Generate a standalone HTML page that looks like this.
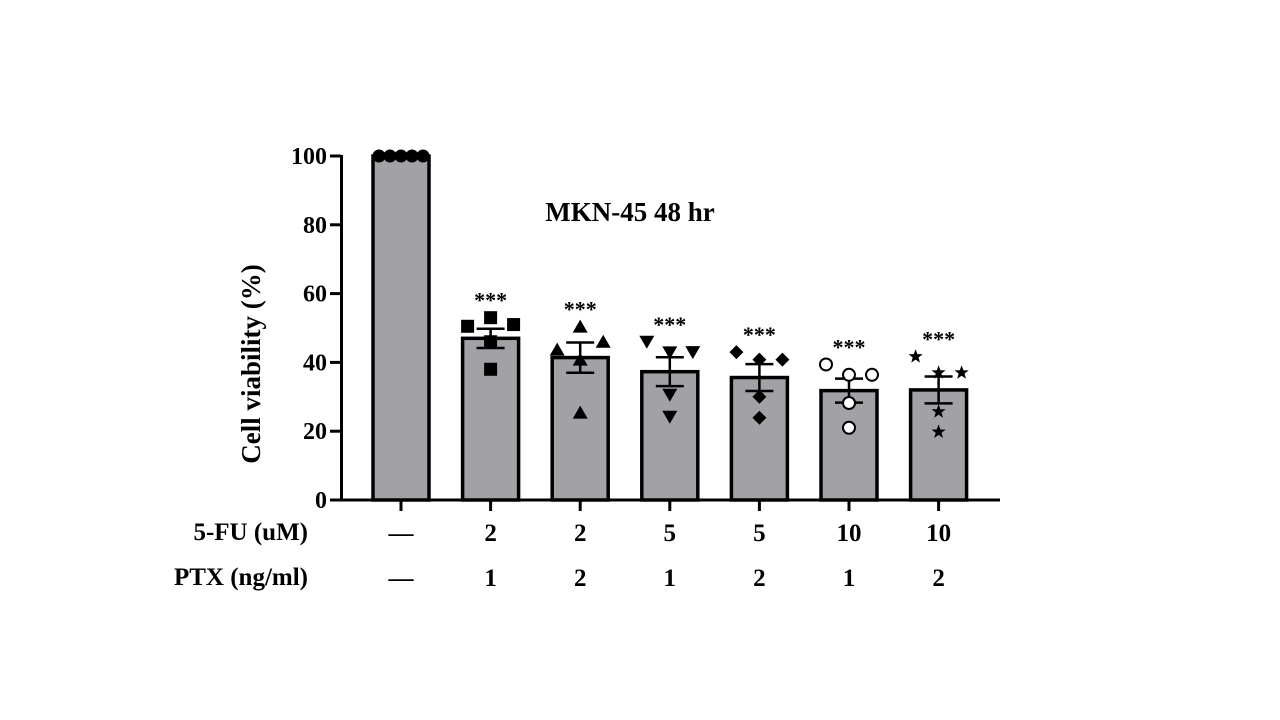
<!DOCTYPE html>
<html><head><meta charset="utf-8"><style>
html,body{margin:0;padding:0;background:#fff;width:1280px;height:720px;overflow:hidden}
svg text{font-family:"Liberation Serif",serif;font-weight:bold;fill:#000}
</style></head><body>
<svg id="chart" width="1280" height="720" viewBox="0 0 1280 720" xmlns="http://www.w3.org/2000/svg">
<g id="axes"></g>
<g id="bars"></g>
<g id="pts"></g>
<text x="630" y="221" font-size="27" text-anchor="middle">MKN-45 48 hr</text>
<text transform="translate(260,364) rotate(-90)" font-size="27" text-anchor="middle">Cell viability (%)</text>
<text x="308" y="540" font-size="25" text-anchor="end">5-FU (uM)</text>
<text x="308" y="585" font-size="25" text-anchor="end">PTX (ng/ml)</text>
</svg>
<script>
const fuLabels=["—","2","2","5","5","10","10"];
const ptxLabels=["—","1","2","1","2","1","2"];
const means=[100,47,41.4,37.3,35.6,31.8,32];
const sems=[0,2.8,4.4,4.2,3.9,3.5,3.9];
const points=[[100,100,100,100,100],[53,50.5,51,46,38],[50.4,43.7,46,40.8,25.4],[42.9,46,43,30.6,24.2],[40.8,43,40.8,30,23.9],[36.4,39.4,36.4,28.2,21],[37,41.7,37,25.7,19.8]];
const shapes=["circle","square","triangle","tridown","diamond","ocircle","star"];
const sigLabels=["","***","***","***","***","***","***"];
const yTicks=[0,20,40,60,80,100];
const NS="http://www.w3.org/2000/svg";
const y0=500,yScale=3.44,x0=401,dx=89.6,bw=56;
const Y=v=>y0-v*yScale, X=i=>x0+i*dx;
function mk(tag,attrs,parent){const e=document.createElementNS(NS,tag);for(const k in attrs)e.setAttribute(k,attrs[k]);parent.appendChild(e);return e;}
const axes=document.getElementById('axes'),bars=document.getElementById('bars'),pts=document.getElementById('pts');
let l=mk('line',{x1:341.5,y1:Y(100)-1,x2:341.5,y2:y0+1.5,stroke:'#000','stroke-width':3},axes);


l=mk('line',{x1:340,y1:y0,x2:1000,y2:y0,stroke:'#000','stroke-width':3},axes);


yTicks.forEach(t=>{
 let tk=mk('line',{x1:330,y1:Y(t),x2:341,y2:Y(t),stroke:'#000','stroke-width':3},axes);
 
 
 let tx=mk('text',{x:327,y:Y(t)+8,'font-size':24,'text-anchor':'end'},axes);
 tx.textContent=t;
 
 
});
function marker(shape,cx,cy,g){
 const s=6.5;let e;
 if(shape==='circle')e=mk('circle',{cx,cy,r:s,fill:'#000'},g);
 else if(shape==='ocircle')e=mk('circle',{cx,cy,r:6,fill:'#fff',stroke:'#000','stroke-width':2},g);
 else if(shape==='square')e=mk('rect',{x:cx-s,y:cy-s,width:2*s,height:2*s,fill:'#000'},g);
 else if(shape==='triangle')e=mk('polygon',{points:`${cx},${cy-7} ${cx-7.5},${cy+6} ${cx+7.5},${cy+6}`,fill:'#000'},g);
 else if(shape==='tridown')e=mk('polygon',{points:`${cx},${cy+7} ${cx-7.5},${cy-6} ${cx+7.5},${cy-6}`,fill:'#000'},g);
 else if(shape==='diamond')e=mk('polygon',{points:`${cx},${cy-7} ${cx+7},${cy} ${cx},${cy+7} ${cx-7},${cy}`,fill:'#000'},g);
 else {let p=[];for(let k=0;k<10;k++){const r=k%2?3:7.5,a=-Math.PI/2+k*Math.PI/5;p.push((cx+r*Math.cos(a)).toFixed(1)+','+(cy+r*Math.sin(a)).toFixed(1));}
  e=mk('polygon',{points:p.join(' '),fill:'#000'},g);}
 return e;
}
const offs=[[-22,-11,0,11,22],[-23,0,23,0,0]];
means.forEach((m,i)=>{
 const cx=X(i);
 let b=mk('rect',{x:cx-bw/2,y:Y(m),width:bw,height:y0-Y(m),fill:'#a2a1a6',stroke:'#000','stroke-width':3.5},bars);
 
 
 let tk=mk('line',{x1:cx,y1:y0,x2:cx,y2:y0+11,stroke:'#000','stroke-width':3},axes);
 
 
 let f=mk('text',{x:cx,y:541,'font-size':25,'text-anchor':'middle'},axes);f.textContent=fuLabels[i];
 
 
 let p=mk('text',{x:cx,y:586,'font-size':25,'text-anchor':'middle'},axes);p.textContent=ptxLabels[i];
 
 
 if(sems[i]>0){
  const g=mk('g',{stroke:'#000','stroke-width':2.5},bars);
  
  
  mk('line',{x1:cx,y1:Y(m+sems[i]),x2:cx,y2:Y(m-sems[i])},g);
  mk('line',{x1:cx-14,y1:Y(m+sems[i]),x2:cx+14,y2:Y(m+sems[i])},g);
  mk('line',{x1:cx-14,y1:Y(m-sems[i]),x2:cx+14,y2:Y(m-sems[i])},g);
 }
 const o=i===0?offs[0]:offs[1];
 points[i].forEach((v,k)=>{
  const e=marker(shapes[i],cx+(i===0?o[k]:[0,-23,23,0,0][k]),Y(v),pts);
  
  
 });
 if(sigLabels[i]){
  const mx=Math.max(...points[i]);
  let s=mk('text',{x:cx,y:Y(mx)-10,'font-size':22,'font-weight':'normal','text-anchor':'middle'},pts);
  s.textContent=sigLabels[i];
  
  
 }
});
</script>
</body></html>
